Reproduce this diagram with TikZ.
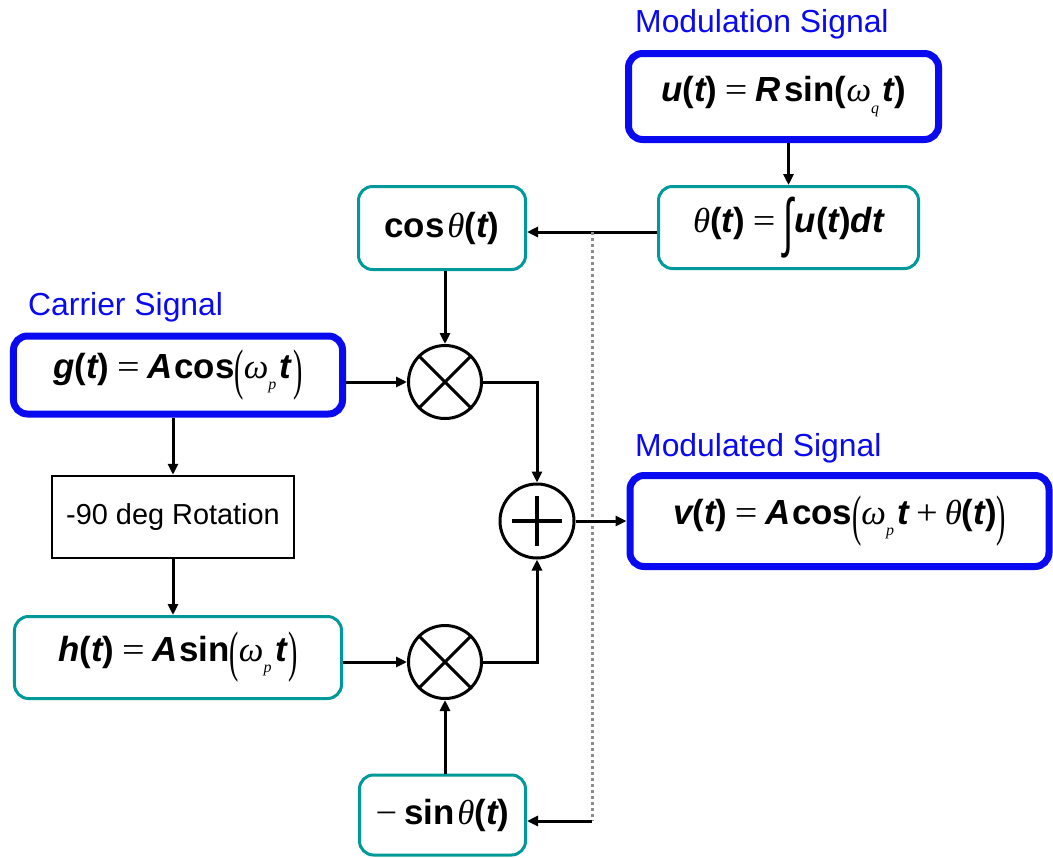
\documentclass[tikz,border=0pt]{standalone}
\usepackage{fontspec}
\usepackage{graphicx}
\setmainfont{Liberation Sans}
\newfontfamily\grk{Liberation Serif}
\usetikzlibrary{arrows.meta}

% formula pieces
\newcommand\BI[1]{{\bfseries\itshape #1}}
\newcommand\BU[1]{{\bfseries #1}}
\newcommand\gth{{\grk\itshape θ}}
\newcommand\gom{{\grk\itshape ω}}
\newcommand\lowsub[1]{\raisebox{-0.32em}{\fontsize{16}{16}\selectfont\grk\itshape #1}\hspace{0.1em}}
\newcommand\eqs{\hspace{0.22em}{\grk\mdseries\scalebox{1.15}[1]{=}}\hspace{0.22em}}
\newcommand\pls{\hspace{0.2em}{\grk\mdseries\scalebox{1.1}[1]{+}}\hspace{0.2em}}
\newcommand\mns{{\grk\mdseries\scalebox{1.1}[1]{−}}\hspace{0.2em}}
\newcommand\bigint{\raisebox{-0.34em}{\scalebox{1.05}[1.85]{∫}}}
\newcommand\tallL{\raisebox{-0.28em}{\scalebox{0.8}[1.6]{\grk (}}}
\newcommand\tallR{\raisebox{-0.28em}{\scalebox{0.8}[1.6]{\grk )}}}

\definecolor{sigblue}{RGB}{10,10,240}
\definecolor{boxteal}{RGB}{0,153,153}
\definecolor{tapgray}{RGB}{140,140,140}

\tikzset{
  formula/.style={font=\fontsize{35}{40}\selectfont, align=center, inner sep=0pt, fill=white},
  bluebox/.style={formula, draw=sigblue, line width=7bp, rounded corners=14bp},
  tealbox/.style={formula, draw=boxteal, line width=3bp, rounded corners=14bp},
  plainbox/.style={draw=black, line width=2.5bp, inner sep=0pt, font=\fontsize{29}{34}\selectfont},
  opcircle/.style={circle, draw=black, line width=3bp, minimum size=73bp, inner sep=0pt},
  signame/.style={text=sigblue, inner sep=0pt, anchor=base west, font=\fontsize{32}{38}\selectfont},
  wire/.style={draw=black, line width=3bp},
  arr/.style={wire, -{Triangle[length=11bp,width=10bp]}},
  tapline/.style={draw=tapgray, line width=3bp, dash pattern=on 3bp off 3bp}
}

\begin{document}
\begin{tikzpicture}[x=1bp, y=-1bp]
\useasboundingbox (0,0) rectangle (1053,858);

% signal names
\node[signame] (lmod) at (635,32) {Modulation Signal};
\node[signame] (lcar) at (28,315) {Carrier Signal};
\node[signame] (lout) at (635,456) {Modulated Signal};

% blocks
\node[bluebox, minimum width=310bp, minimum height=86bp] (ubox) at (783.5,96.5)
  {\BI{u}\BU{(}\BI{t}\BU{)}\eqs\BI{R}\hspace{0.12em}\BU{sin(}\gom\lowsub{q}\BI{t}\BU{)}};
\node[tealbox, minimum width=260bp, minimum height=82bp] (thbox) at (788.5,227.5)
  {\gth\BU{(}\BI{t}\BU{)}\eqs\bigint\hspace{0.05em}\BI{u}\BU{(}\BI{t}\BU{)}\BI{dt}};
\node[tealbox, minimum width=167bp, minimum height=83bp] (cosbox) at (442,228)
  {\BU{cos}\hspace{0.08em}\gth\BU{(}\BI{t}\BU{)}};
\node[bluebox, minimum width=329bp, minimum height=78bp] (gbox) at (178,375)
  {\BI{g}\BU{(}\BI{t}\BU{)}\eqs\BI{A}\hspace{0.05em}\BU{cos}\tallL\gom\lowsub{p}\BI{t}\hspace{0.05em}\tallR};
\node[plainbox, minimum width=242bp, minimum height=82bp] (rotbox) at (173,517)
  {-90 deg Rotation};
\node[tealbox, minimum width=327bp, minimum height=82bp] (hbox) at (178,657.5)
  {\BI{h}\BU{(}\BI{t}\BU{)}\eqs\BI{A}\hspace{0.05em}\BU{sin}\tallL\gom\lowsub{p}\BI{t}\hspace{0.05em}\tallR};
\node[tealbox, minimum width=166bp, minimum height=80bp] (sinbox) at (442.5,815)
  {\mns\BU{sin}\hspace{0.08em}\gth\BU{(}\BI{t}\BU{)}};
\node[bluebox, minimum width=419bp, minimum height=91bp] (vbox) at (839.5,521)
  {\BI{v}\BU{(}\BI{t}\BU{)}\eqs\BI{A}\hspace{0.05em}\BU{cos}\tallL\gom\lowsub{p}\BI{t}\pls\gth\BU{(}\BI{t}\BU{)}\tallR};

% multipliers and adder
\node[opcircle] (m1) at (445,382) {};
\node[opcircle] (m2) at (445,662) {};
\node[opcircle, minimum size=74bp] (sum) at (537,521) {};
\draw[wire] (m1.north west) -- (m1.south east) (m1.north east) -- (m1.south west);
\draw[wire] (m2.north west) -- (m2.south east) (m2.north east) -- (m2.south west);
\draw[line width=4bp] ([xshift=-25bp]sum.center) -- ([xshift=25bp]sum.center)
  ([yshift=-25bp]sum.center) -- ([yshift=25bp]sum.center);

% phase tap
\coordinate (tapA) at (592,232);
\coordinate (tapB) at (592,821);

% connections
\draw[arr] (ubox.south -| thbox.north) -- (thbox.north);
\draw[arr] (thbox.west |- tapA) -- (cosbox.east |- tapA);
\draw[tapline] (tapA) -- (tapB);
\draw[arr] (tapB) -- (tapB -| sinbox.east);
\draw[arr] (cosbox.south -| m1) -- (m1.north);
\draw[arr] (gbox.east |- m1) -- (m1.west);
\draw[arr] (gbox.south -| rotbox.north) -- (rotbox.north);
\draw[arr] (rotbox.south) -- (hbox.north -| rotbox.south);
\draw[arr] (hbox.east |- m2) -- (m2.west);
\draw[arr] (sinbox.north -| m2) -- (m2.south);
\draw[arr] (m1.east) -- (m1.east -| sum) -- (sum.north);
\draw[arr] (m2.east) -- (m2.east -| sum) -- (sum.south);
\draw[arr] (sum.east) -- (vbox.west |- sum);
\end{tikzpicture}
\end{document}
